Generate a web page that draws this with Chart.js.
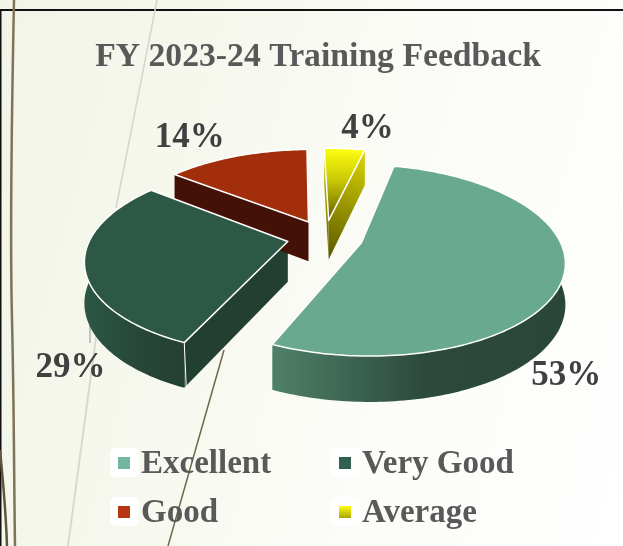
<!DOCTYPE html>
<html>
<head>
<meta charset="utf-8">
<title>FY 2023-24 Training Feedback</title>
<script src="https://cdn.jsdelivr.net/npm/chart.js@4"></script>
<style>
  html, body { margin: 0; padding: 0; background: #fff; overflow: hidden; }
  #wrap { position: relative; width: 623px; height: 546px; overflow: hidden;
          background: linear-gradient(105deg, #f1f4e6 0%, #f6f8ee 30%, #fbfcf7 60%, #ffffff 100%); }
  #decor, #myChart { position: absolute; left: 0; top: 0; }
  .key { position: absolute; height: 30px; font: bold 33px "Liberation Serif", serif; color: #595959; white-space: nowrap; }
  .key .tile { position: absolute; left: 0; top: 0; width: 29px; height: 29px; background: #fff; border-radius: 5px; }
  .key .box { position: absolute; left: 8px; top: 9px; width: 12px; height: 12px; }
  .key .txt { position: absolute; left: 31px; top: -5px; line-height: 38px; }
</style>
</head>
<body>
<div id="wrap">
  <svg id="decor" width="623" height="546" fill="none">
    <path d="M0 10H623" stroke="#111" stroke-width="2"/>
    <path d="M0.5 10V546" stroke="#111" stroke-width="2"/>
    <path d="M14 0C12 100 10 240 12 320S14 480 15 546" stroke="#7d7459" stroke-width="2.5"/>
    <path d="M0 450C3 480 6 515 7 546" stroke="#5e573f" stroke-width="2.5"/>
    <path d="M157 0L116 208" stroke="#d6d6cb" stroke-width="1.5"/>
    <path d="M97 330L68 546" stroke="#d9d9ce" stroke-width="2"/>
    <path d="M224 350L168 546" stroke="#6f664c" stroke-width="1.5"/>
    <path d="M90 308V343" stroke="#b2b2b2" stroke-width="1.5"/>
  </svg>
  <canvas id="myChart" width="623" height="546"></canvas>
  <div id="legend"></div>
</div>
<script>
const chartTitle = "FY 2023-24 Training Feedback";
const categories = ["Excellent", "Very Good", "Good", "Average"];
const feedback = [53, 29, 14, 4];
const topColors = ["#69a98f", "#2e5846", "#a32e0c", "#f4f40c"];
const keyColors = ["#72b79d", "#31614e", "#b7360f", "linear-gradient(#ffff10,#a9a600)"];

// how the flat pie gets tilted
const tilt = 0.46, persp = 0.18, wallDepth = 40, shiftX = 7;
const labelShift = [[2, 102], [-14, 103], [-47, -18], [23, -20]];
const legendSpots = [[110, 448], [331, 448], [110, 497], [331, 497]];

// a point of the slice, moved out by the slice's explode offset
function slicePoint(el, angle, radius) {
  const mid = (el.startAngle + el.endAngle) / 2, off = el.options.offset;
  const R = el.outerRadius;
  const u = off * Math.cos(mid) + radius * Math.cos(angle);
  const v = off * Math.sin(mid) + radius * Math.sin(angle);
  const s = 1 / (1 - persp * v / R);
  return { x: el.x + shiftX + u * s, y: el.y + v * tilt * s, s: s };
}

function rimPoints(el) {
  const pts = [], n = Math.ceil((el.endAngle - el.startAngle) / 0.02);
  for (let i = 0; i <= n; i++) {
    const a = el.startAngle + (el.endAngle - el.startAngle) * i / n;
    pts.push({ a: a, p: slicePoint(el, a, el.outerRadius) });
  }
  return pts;
}

const drop = p => wallDepth * Math.pow(p.s, 0.65);

function fillPoly(ctx, pts, fill) {
  ctx.beginPath();
  pts.forEach((p, i) => i ? ctx.lineTo(p.x, p.y) : ctx.moveTo(p.x, p.y));
  ctx.closePath();
  ctx.fillStyle = fill;
  ctx.fill();
}

function hGrad(ctx, x0, x1, stops) {
  const g = ctx.createLinearGradient(x0, 0, x1, 0);
  stops.forEach(s => g.addColorStop(s[0], s[1]));
  return g;
}

const pie3d = {
  id: "pie3d",
  beforeDatasetsDraw(chart) {
    const ctx = chart.ctx;
    const arcs = chart.getDatasetMeta(0).data;
    ctx.save();

    // walls first
    arcs.forEach((el, i) => {
      const apex = slicePoint(el, 0, 0);
      const rim = rimPoints(el);

      const front = rim.filter(r => Math.sin(r.a) > -0.01).map(r => r.p);
      if (front.length > 1) {
        const xs = front.map(p => p.x);
        const x0 = Math.min(...xs), x1 = Math.max(...xs);
        const fill = i === 0
          ? hGrad(ctx, x0, x1, [[0, "#4f8069"], [0.52, "#2c4a3c"], [1, "#2a463a"]])
          : hGrad(ctx, x0, x1, [[0, "#2c5744"], [0.5, "#27483a"], [1, "#234033"]]);
        fillPoly(ctx, front.concat(front.slice().reverse().map(p => ({ x: p.x, y: p.y + drop(p) }))), fill);
      }

      [[el.startAngle, -Math.PI / 2], [el.endAngle, Math.PI / 2]].forEach(edge => {
        if (Math.sin(edge[0] + edge[1]) <= 0) return;
        const e = slicePoint(el, edge[0], el.outerRadius);
        const eb = { x: e.x, y: e.y + drop(e) }, ab = { x: apex.x, y: apex.y + drop(apex) };
        let fill = ["#2a463a", "#233f32", "#431105", "#5d5a00"][i];
        if (i === 3) {
          fill = ctx.createLinearGradient(e.x, e.y, ab.x, ab.y);
          fill.addColorStop(0, "#dcd800");
          fill.addColorStop(1, "#5a5600");
        }
        fillPoly(ctx, [apex, e, eb, ab], fill);
      });
    });

    // then the top faces
    arcs.forEach((el, i) => {
      const apex = slicePoint(el, 0, 0);
      const rim = rimPoints(el).map(r => r.p);
      const face = [apex].concat(rim);
      let fill = el.options.backgroundColor;
      if (i === 3) {
        fill = ctx.createLinearGradient(0, Math.min(...rim.map(p => p.y)), 0, apex.y);
        fill.addColorStop(0, "#ffff10");
        fill.addColorStop(0.45, "#c9c705");
        fill.addColorStop(1, "#5f5c00");
      }
      fillPoly(ctx, face, fill);
      ctx.strokeStyle = el.options.borderColor;
      ctx.lineWidth = el.options.borderWidth;
      ctx.lineJoin = "round";
      ctx.stroke();
    });

    // white corner line of the Very Good slice
    const vg = arcs[1], c = slicePoint(vg, vg.startAngle, vg.outerRadius);
    ctx.beginPath();
    ctx.moveTo(c.x, c.y);
    ctx.lineTo(c.x + 2, c.y + drop(c));
    ctx.strokeStyle = "#fff";
    ctx.lineWidth = 1;
    ctx.stroke();

    // percent labels
    ctx.font = "bold 35px 'Liberation Serif', serif";
    ctx.fillStyle = "#404040";
    ctx.textAlign = "center";
    ctx.textBaseline = "middle";
    const total = feedback.reduce((a, b) => a + b, 0);
    arcs.forEach((el, i) => {
      const mid = (el.startAngle + el.endAngle) / 2;
      const p = slicePoint(el, mid, el.outerRadius);
      ctx.fillText(Math.round(feedback[i] / total * 100) + "%", p.x + labelShift[i][0], p.y + labelShift[i][1]);
    });

    ctx.restore();
    return false;
  }
};

new Chart(document.getElementById("myChart"), {
  type: "pie",
  data: {
    labels: categories,
    datasets: [{
      data: feedback,
      backgroundColor: topColors,
      borderColor: "#ffffff",
      borderWidth: 1.5,
      offset: 38
    }]
  },
  options: {
    responsive: false,
    animation: false,
    rotation: 13,
    radius: 197,
    layout: { padding: { left: 13, right: 0, top: 0, bottom: 149 } },
    plugins: {
      legend: { display: false },
      tooltip: { enabled: false },
      title: {
        display: true,
        text: chartTitle,
        color: "#595959",
        font: { family: "'Liberation Serif', serif", size: 33.7, weight: "bold" },
        padding: { top: 37, bottom: 0 }
      }
    }
  },
  plugins: [pie3d]
});

document.getElementById("legend").innerHTML = categories.map((c, i) =>
  `<div class="key" style="left:${legendSpots[i][0]}px;top:${legendSpots[i][1]}px">
     <span class="tile"></span><span class="box" style="background:${keyColors[i]}"></span>
     <span class="txt">${c}</span>
   </div>`).join("");
</script>
</body>
</html>
